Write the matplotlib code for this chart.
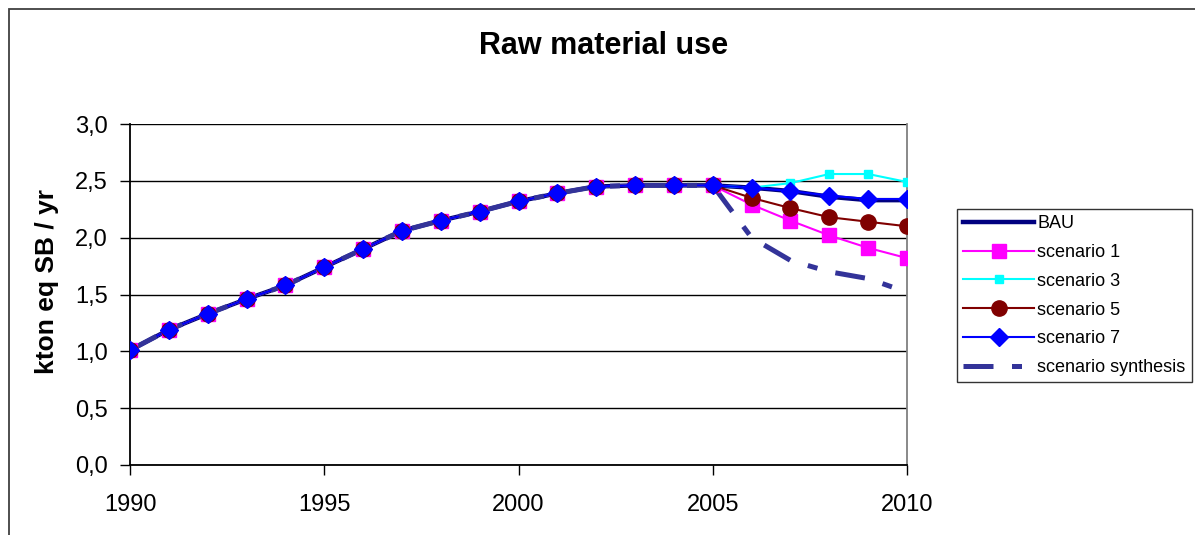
import matplotlib
matplotlib.use("Agg")
import matplotlib.pyplot as plt
from matplotlib.lines import Line2D
from matplotlib.patches import Rectangle

plt.rcParams['font.family'] = ['Liberation Sans', 'DejaVu Sans']

years = list(range(1990, 2011))
common = [1.01, 1.19, 1.33, 1.46, 1.58, 1.74, 1.90, 2.06, 2.15, 2.23, 2.32,
          2.39, 2.45, 2.46, 2.46, 2.46]
bau = common + [2.44, 2.41, 2.36, 2.33, 2.33]
scenario_1 = common + [2.29, 2.15, 2.02, 1.91, 1.82]
scenario_3 = common + [2.44, 2.48, 2.56, 2.56, 2.49]
scenario_5 = common + [2.35, 2.26, 2.18, 2.14, 2.10]
scenario_7 = common + [2.44, 2.41, 2.37, 2.34, 2.34]
synthesis = common + [2.00, 1.80, 1.70, 1.64, 1.52]

y_ticks = [0.0, 0.5, 1.0, 1.5, 2.0, 2.5, 3.0]
y_tick_labels = ["0,0", "0,5", "1,0", "1,5", "2,0", "2,5", "3,0"]
x_ticks = [1990, 1995, 2000, 2005, 2010]
x_tick_labels = ["1990", "1995", "2000", "2005", "2010"]

W, H = 1195, 535
fig = plt.figure(figsize=(W / 100, H / 100), dpi=100)
ax = fig.add_axes([130 / W, 1 - 465 / H, (907 - 130) / W, (465 - 124) / H])

# outer chart border
fig.patches.append(Rectangle((9 / W, -0.2), 1.2, 1.2 - 9 / H,
                             transform=fig.transFigure, fill=False,
                             edgecolor='#404040', lw=1.3, zorder=0))

series = [
    ("BAU", bau, dict(color='#000080', lw=3.2), None),
    ("scenario 1", scenario_1, dict(color='#FF00FF', lw=1.5),
     dict(marker='s', ms=10.5, mfc='#FF00FF', mec='#FF00FF')),
    ("scenario 3", scenario_3, dict(color='#00FFFF', lw=1.5),
     dict(marker='s', ms=5.5, mfc='#00FFFF', mec='#00FFFF')),
    ("scenario 5", scenario_5, dict(color='#800000', lw=1.5),
     dict(marker='o', ms=11, mfc='#800000', mec='#800000')),
    ("scenario 7", scenario_7, dict(color='#0000FF', lw=1.5),
     dict(marker='D', ms=9.5, mfc='#0000FF', mec='#0000FF')),
]

handles = []
for name, vals, lstyle, mstyle in series:
    ax.plot(years, vals, zorder=2, solid_joinstyle='round', **lstyle)
    if mstyle:
        ax.plot(years, vals, ls='none', zorder=4, **mstyle)
    handles.append(Line2D([], [], label=name, **lstyle, **(mstyle or {})))

syn_style = dict(color='#333399', lw=3.6, dashes=(6, 3.7, 2, 3.7),
                 dash_capstyle='butt')
ax.plot(years, synthesis, zorder=3, **syn_style)
handles.append(Line2D([], [], label="scenario synthesis", **syn_style))

ax.set_xlim(1990, 2010)
ax.set_ylim(0, 3.0)
ax.set_yticks(y_ticks)
ax.set_yticklabels(y_tick_labels)
ax.set_xticks(x_ticks)
ax.set_xticklabels(x_tick_labels)
ax.tick_params(axis='both', direction='out', length=7, width=1,
               labelsize=17, color='black')
ax.tick_params(axis='y', pad=9)
ax.tick_params(axis='x', pad=14)
ax.yaxis.grid(True, color='black', lw=1)
ax.set_axisbelow(True)
ax.spines['top'].set_visible(False)
ax.spines['right'].set_color('#808080')
ax.spines['right'].set_linewidth(1.3)
ax.spines['left'].set_linewidth(1.3)
ax.spines['bottom'].set_linewidth(1.3)

fig.text(604 / W, 1 - 46 / H, "Raw material use", ha='center', va='center',
         fontsize=22, fontweight='bold')
fig.text(47 / W, 1 - 281 / H, "kton eq SB / yr", ha='center', va='center',
         rotation=90, fontsize=19, fontweight='bold')

leg = fig.legend(handles=handles, loc='upper left',
                 bbox_to_anchor=(957 / W, 1 - 209 / H), fontsize=13,
                 frameon=True, fancybox=False, edgecolor='black',
                 handlelength=3.9, handletextpad=0.2, labelspacing=0.65,
                 borderpad=0.35, borderaxespad=0, numpoints=1)
leg.get_frame().set_linewidth(1.0)

fig.savefig("out.png", dpi=100)
